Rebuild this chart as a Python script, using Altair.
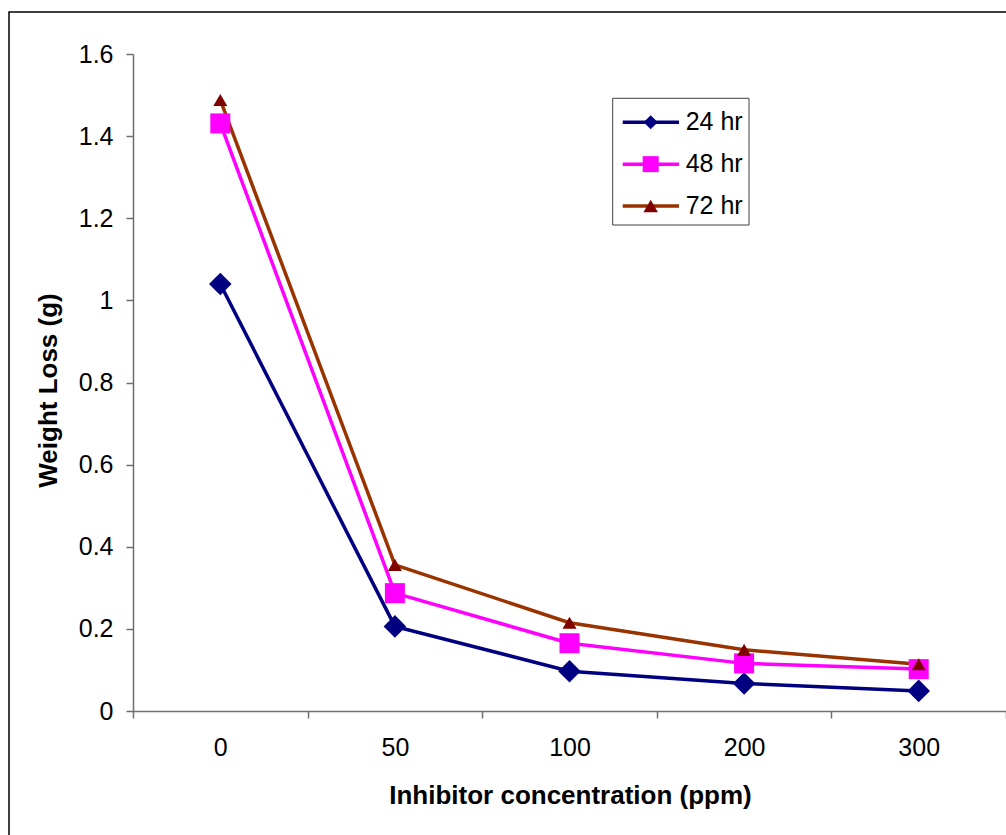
import altair as alt
import pandas as pd

# Weight loss of the specimens against inhibitor concentration, per immersion time
concentrations = ["0", "50", "100", "200", "300"]
series = ["24 hr", "48 hr", "72 hr"]
loss_24 = [1.040, 0.206, 0.097, 0.067, 0.049]
loss_48 = [1.431, 0.287, 0.165, 0.116, 0.102]
loss_72 = [1.488, 0.356, 0.215, 0.149, 0.114]
y_ticks = [0, 0.2, 0.4, 0.6, 0.8, 1.0, 1.2, 1.4, 1.6]

line_colors = ["#000080", "#FF00FF", "#993300"]
marker_colors = ["#000080", "#FF00FF", "#800000"]
marker_shapes = ["diamond", "square", "triangle-up"]
marker_sizes = [510, 400, 196]
legend_sizes = [200, 256, 210]

FONT = "Liberation Sans"
AXIS_GREY = "#6e6e6e"

rows = []
for name, vals, lc, mc, shp, sz in zip(series, [loss_24, loss_48, loss_72],
                                       line_colors, marker_colors, marker_shapes, marker_sizes):
    for i, (c, v) in enumerate(zip(concentrations, vals)):
        rows.append(dict(conc=c, idx=i, series=name, loss=v, line=lc, marker=mc, shape=shp, size=sz))
df = pd.DataFrame(rows)

legend_df = pd.DataFrame({"series": series, "line": line_colors, "marker": marker_colors,
                          "shape": marker_shapes, "lsize": legend_sizes})
one = pd.DataFrame({"k": [0]})

x_enc = alt.X(
    "conc:N", sort=concentrations,
    scale=alt.Scale(type="band", domain=concentrations, paddingInner=0, paddingOuter=0),
    axis=alt.Axis(
        title="Inhibitor concentration (ppm)", tickBand="extent", labelAngle=0,
        labelPadding=17, titleX=437, titleY=92, titleAlign="center",
        titleBaseline="alphabetic",
    ),
)
y_enc = alt.Y(
    "loss:Q",
    scale=alt.Scale(domain=[0, 1.6], nice=False, zero=True),
    axis=alt.Axis(
        title="Weight Loss (g)", values=y_ticks, format="~g", labelPadding=13,
        titleX=-77, titleY=336, titleAngle=270, titleAlign="center",
        titleBaseline="alphabetic",
    ),
)

lines = alt.Chart(df).mark_line(strokeWidth=3.5).encode(
    x=x_enc, y=y_enc,
    color=alt.Color("line:N", scale=None),
    detail="series:N",
    order=alt.Order("idx:Q"),
)
points = alt.Chart(df).mark_point(filled=True, opacity=1).encode(
    x=x_enc, y=y_enc,
    shape=alt.Shape("shape:N", scale=None),
    color=alt.Color("marker:N", scale=None),
    size=alt.Size("size:Q", scale=None),
)
main = alt.layer(lines, points)

# outer chart frame
frame = alt.Chart(one).mark_rect(fill="white", fillOpacity=0, stroke="#000000", strokeWidth=1.5).encode(
    x=alt.value(-124), x2=alt.value(1100), y=alt.value(-42), y2=alt.value(900)
)

# legend block
leg_y = alt.Y("series:N", sort=series,
              scale=alt.Scale(type="point", domain=series, range=[68.3, 152], padding=0),
              axis=None)
leg_box = alt.Chart(one).mark_rect(fill="white", stroke="#404040", strokeWidth=1).encode(
    x=alt.value(479.7), x2=alt.value(616), y=alt.value(44.3), y2=alt.value(171)
)
leg_lines = alt.Chart(legend_df).mark_rule(strokeWidth=3.5).encode(
    x=alt.value(489.7), x2=alt.value(546), y=leg_y,
    color=alt.Color("line:N", scale=None),
)
leg_marks = alt.Chart(legend_df).mark_point(filled=True, opacity=1).encode(
    x=alt.value(517.7), y=leg_y,
    shape=alt.Shape("shape:N", scale=None),
    color=alt.Color("marker:N", scale=None),
    size=alt.Size("lsize:Q", scale=None),
)
leg_text = alt.Chart(legend_df).mark_text(
    align="left", baseline="middle", font=FONT, fontSize=25, color="#000000"
).encode(x=alt.value(552.7), y=leg_y, text="series:N")
legend = alt.layer(leg_box, leg_lines, leg_marks, leg_text)

chart = (
    alt.layer(frame, main, legend)
    .resolve_scale(y="independent")
    .properties(
        width=873, height=657,
        autosize=alt.AutoSizeParams(type="none"),
        padding={"left": 133, "top": 54, "right": 0, "bottom": 124},
        background="white",
    )
    .configure_view(stroke=None)
    .configure_axis(
        grid=False,
        domainColor=AXIS_GREY, domainWidth=1.5,
        tickColor=AXIS_GREY, tickWidth=1.5, tickSize=7,
        labelFont=FONT, labelFontSize=25, labelColor="#000000",
        titleFont=FONT, titleFontSize=26, titleFontWeight="bold", titleColor="#000000",
    )
)

chart.save("out.html", embed_options={"renderer": "svg", "actions": False})
